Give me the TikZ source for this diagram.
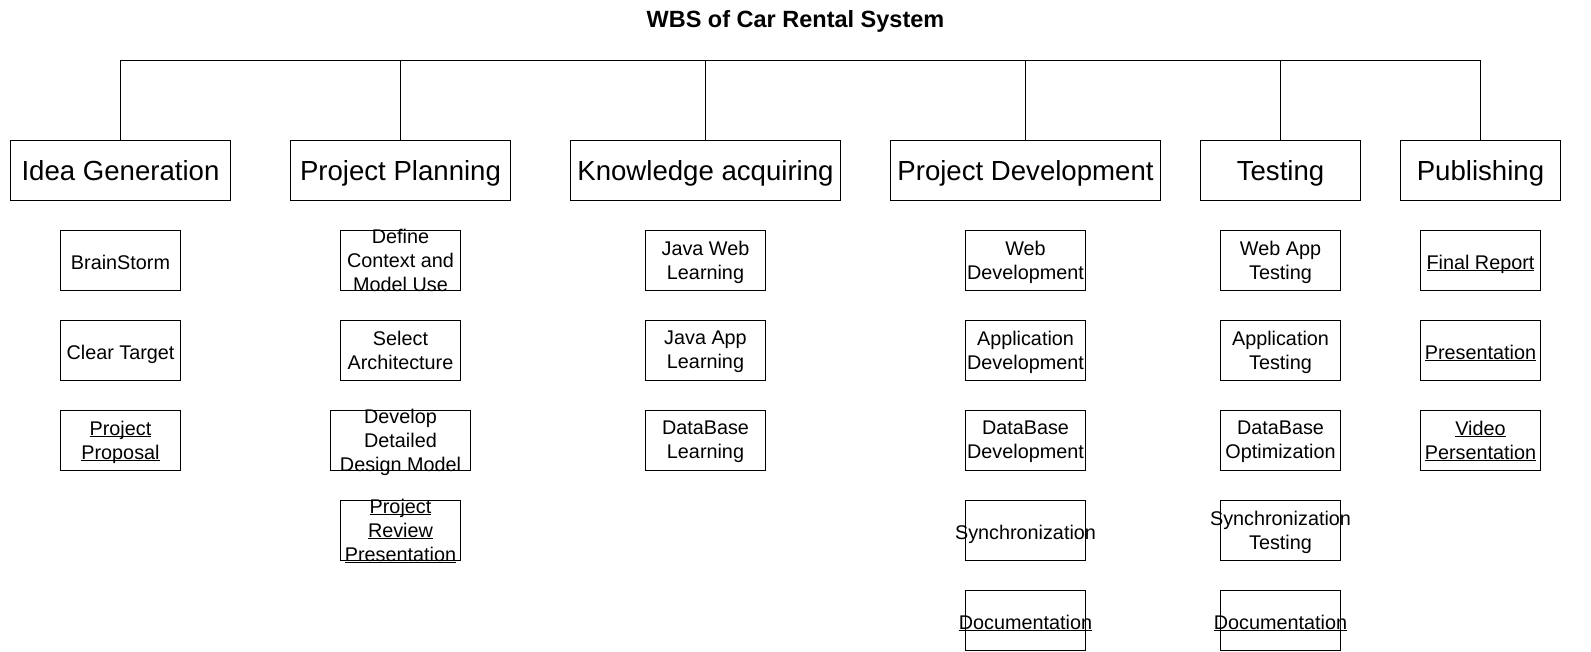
\documentclass[tikz,border=0pt]{standalone}
\usepackage{fontspec}
\setmainfont{Liberation Sans}
\newcommand{\myul}[1]{\setbox0=\hbox{#1}\rlap{\rule[-1.9pt]{\wd0}{1.3pt}}\box0}
\newcommand{\substrut}{\rule[-5.2pt]{0pt}{23.9pt}}
\newcommand{\topstrut}{\rule[-6.9pt]{0pt}{33.2pt}}
\begin{document}
\begin{tikzpicture}[x=1pt,y=-1pt,line width=1pt,
  topbox/.style={draw, minimum height=60pt, inner sep=0pt,
    font=\fontsize{27.6}{33.2}\selectfont, execute at begin node=\topstrut},
  subbox/.style={draw, minimum width=120pt, minimum height=60pt, inner sep=0pt},
  subtxt/.style={inner sep=0pt, align=center, font=\fontsize{19.8}{24}\selectfont,
    yshift=-2pt, execute at begin node=\substrut, execute at end node=\substrut},
  link/.style={draw, line width=1pt}]
\fill[white] (0,0) rectangle (1591,651);
\useasboundingbox (0,0) rectangle (1591,651);

% title
\node[anchor=base, inner sep=0pt, font=\bfseries\fontsize{23.5}{28}\selectfont] (title) at (795.5,27.7) {WBS of Car Rental System};

% top level
\node[topbox, minimum width=220pt] (t1) at (120.5,170.5) {Idea Generation};
\node[topbox, minimum width=220pt] (t2) at (400.5,170.5) {Project Planning};
\node[topbox, minimum width=270pt] (t3) at (705.5,170.5) {Knowledge acquiring};
\node[topbox, minimum width=270pt] (t4) at (1025.5,170.5) {Project Development};
\node[topbox, minimum width=160pt] (t5) at (1280.5,170.5) {Testing};
\node[topbox, minimum width=160pt] (t6) at (1480.5,170.5) {Publishing};

\coordinate (bus) at (0,60.5);
\draw[link] (t1.north) -- (t1.north |- bus) -- (t6.north |- bus) -- (t6.north);
\foreach \n in {t2,t3,t4,t5} {\draw[link] (\n.north) -- (\n.north |- bus);}

% column 1
\node[subbox] (a1) at (120.5,260.5) {};
\node[subtxt] (a1t) at (a1) {BrainStorm};
\node[subbox] (a2) at (120.5,350.5) {};
\node[subtxt] (a2t) at (a2) {Clear Target};
\node[subbox] (a3) at (120.5,440.5) {};
\node[subtxt] (a3t) at (a3) {\myul{Project}\\\myul{Proposal}};

% column 2
\node[subbox] (b1) at (400.5,260.5) {};
\node[subtxt] (b1t) at (b1) {Define\\Context and\\Model Use};
\node[subbox] (b2) at (400.5,350.5) {};
\node[subtxt] (b2t) at (b2) {Select\\Architecture};
\node[subbox, minimum width=140pt] (b3) at (400.5,440.5) {};
\node[subtxt] (b3t) at (b3) {Develop\\Detailed\\Design Model};
\node[subbox] (b4) at (400.5,530.5) {};
\node[subtxt] (b4t) at (b4) {\myul{Project}\\\myul{Review}\\\myul{Presentation}};

% column 3
\node[subbox] (c1) at (705.5,260.5) {};
\node[subtxt] (c1t) at (c1) {Java Web\\Learning};
\node[subbox] (c2) at (705.5,350.5) {};
\node[subtxt] (c2t) at (c2) {Java App\\Learning};
\node[subbox] (c3) at (705.5,440.5) {};
\node[subtxt] (c3t) at (c3) {DataBase\\Learning};

% column 4
\node[subbox] (d1) at (1025.5,260.5) {};
\node[subtxt] (d1t) at (d1) {Web\\Development};
\node[subbox] (d2) at (1025.5,350.5) {};
\node[subtxt] (d2t) at (d2) {Application\\Development};
\node[subbox] (d3) at (1025.5,440.5) {};
\node[subtxt] (d3t) at (d3) {DataBase\\Development};
\node[subbox] (d4) at (1025.5,530.5) {};
\node[subtxt] (d4t) at (d4) {Synchronization};
\node[subbox] (d5) at (1025.5,620.5) {};
\node[subtxt] (d5t) at (d5) {\myul{Documentation}};

% column 5
\node[subbox] (e1) at (1280.5,260.5) {};
\node[subtxt] (e1t) at (e1) {Web App\\Testing};
\node[subbox] (e2) at (1280.5,350.5) {};
\node[subtxt] (e2t) at (e2) {Application\\Testing};
\node[subbox] (e3) at (1280.5,440.5) {};
\node[subtxt] (e3t) at (e3) {DataBase\\Optimization};
\node[subbox] (e4) at (1280.5,530.5) {};
\node[subtxt] (e4t) at (e4) {Synchronization\\Testing};
\node[subbox] (e5) at (1280.5,620.5) {};
\node[subtxt] (e5t) at (e5) {\myul{Documentation}};

% column 6
\node[subbox] (f1) at (1480.5,260.5) {};
\node[subtxt] (f1t) at (f1) {\myul{Final Report}};
\node[subbox] (f2) at (1480.5,350.5) {};
\node[subtxt] (f2t) at (f2) {\myul{Presentation}};
\node[subbox] (f3) at (1480.5,440.5) {};
\node[subtxt] (f3t) at (f3) {\myul{Video}\\\myul{Persentation}};
\end{tikzpicture}
\end{document}
